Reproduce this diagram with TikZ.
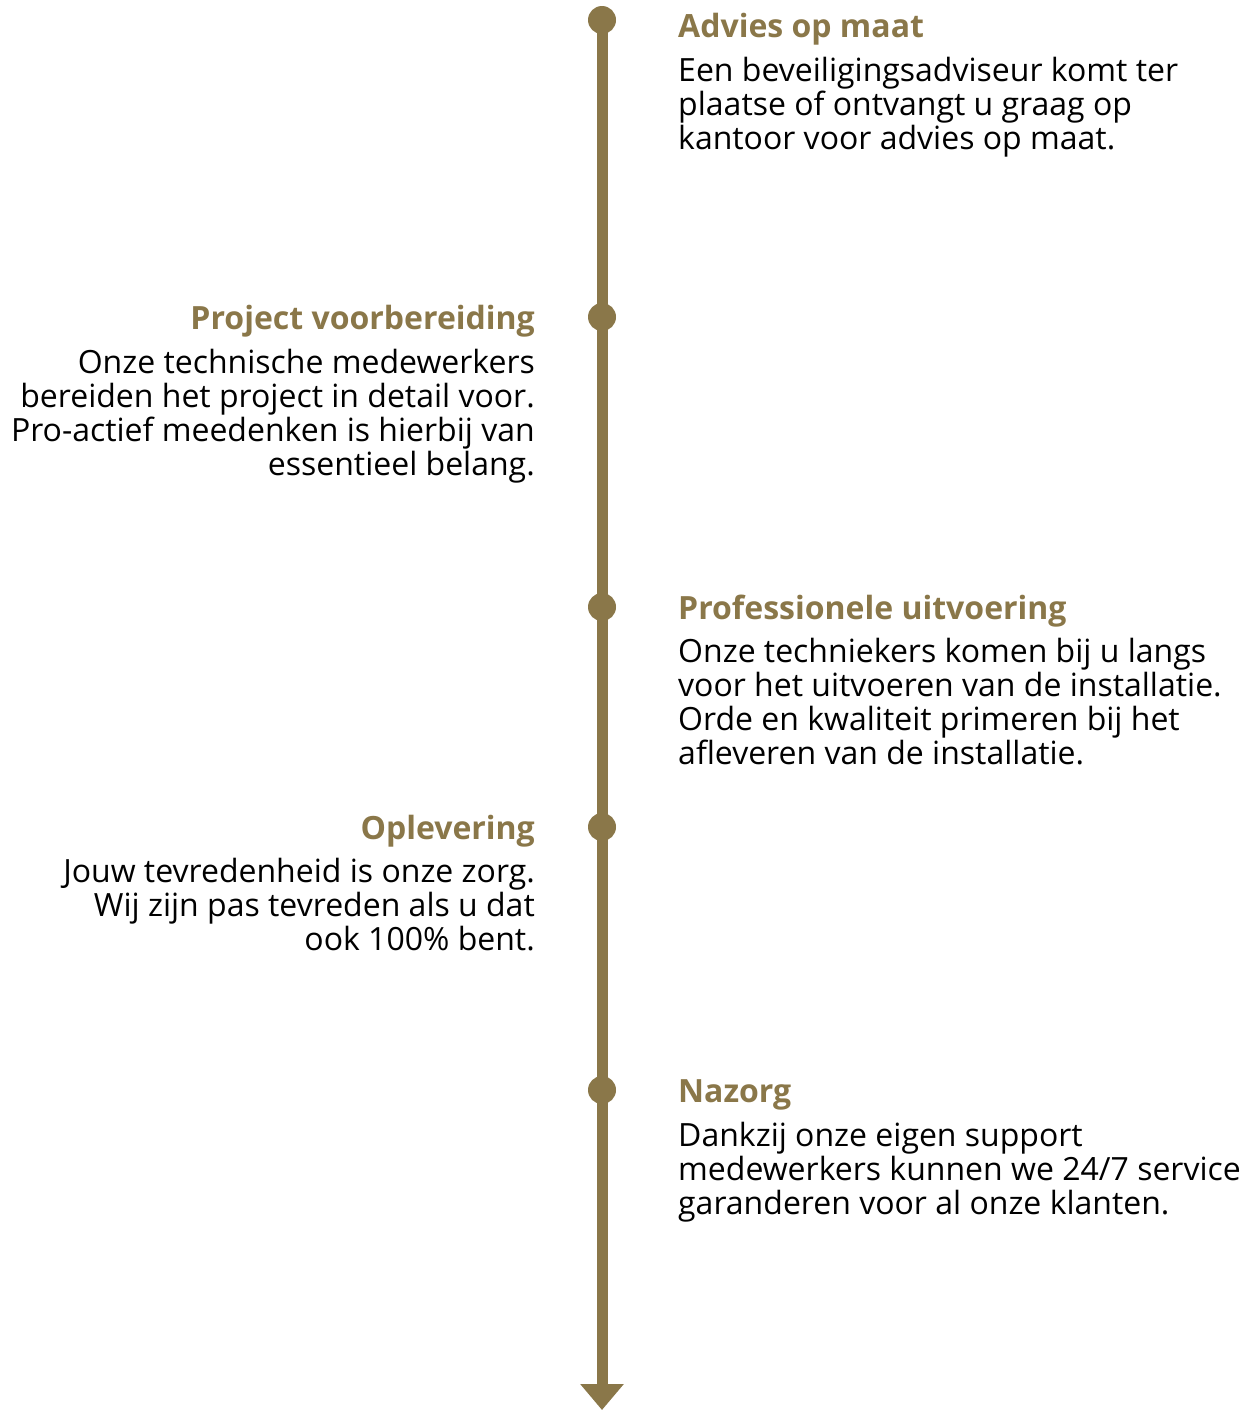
\documentclass[tikz,border=0pt]{standalone}
\usepackage{fontspec}
\setmainfont{Open Sans}
\usetikzlibrary{arrows.meta}
\definecolor{gold}{HTML}{8A7749}
\tikzset{
  dot/.style={circle,fill=gold,inner sep=0pt,minimum size=28pt},
  head/.style={inner sep=0pt,text=gold,font=\fontsize{32}{34}\selectfont\bfseries},
  bodyr/.style={inner sep=0pt,align=left,anchor=base west,font=\fontsize{32}{34}\selectfont},
  bodyl/.style={inner sep=0pt,align=right,anchor=base east,font=\fontsize{32}{34}\selectfont},
}
\begin{document}
\begin{tikzpicture}[x=1pt,y=-1pt]
\useasboundingbox (0,0) rectangle (1255,1411);
\node[dot] (d1) at (602,20) {};
\node[dot] (d2) at (602,317) {};
\node[dot] (d3) at (602,607) {};
\node[dot] (d4) at (602,827) {};
\node[dot] (d5) at (602,1090) {};
\coordinate (end) at (602,1410);
\draw[gold,line width=11pt,-{Triangle[width=42pt 0,length=26pt 0]}] (d1.center) -- (end);

\node[head,anchor=base west] (h1) at (678,37) {Advies op maat};
\node[bodyr] (b1) at (678,149) {Een beveiligingsadviseur komt ter\\plaatse of ontvangt u graag op\\kantoor voor advies op maat.};

\node[head,anchor=base east] (h2) at (535,329) {Project voorbereiding};
\node[bodyl] (b2) at (535,475) {Onze technische medewerkers\\bereiden het project in detail voor.\\Pro-actief meedenken is hierbij van\\essentieel belang.};

\node[head,anchor=base west] (h3) at (678,619) {Professionele uitvoering};
\node[bodyr] (b3) at (678,764) {Onze techniekers komen bij u langs\\voor het uitvoeren van de installatie.\\Orde en kwaliteit primeren bij het\\afleveren van de installatie.};

\node[head,anchor=base east] (h4) at (535,839) {Oplevering};
\node[bodyl] (b4) at (535,950) {Jouw tevredenheid is onze zorg.\\Wij zijn pas tevreden als u dat\\ook 100\% bent.};

\node[head,anchor=base west] (h5) at (678,1102) {Nazorg};
\node[bodyr] (b5) at (678,1214) {Dankzij onze eigen support\\medewerkers kunnen we 24/7 service\\garanderen voor al onze klanten.};
\end{tikzpicture}
\end{document}
